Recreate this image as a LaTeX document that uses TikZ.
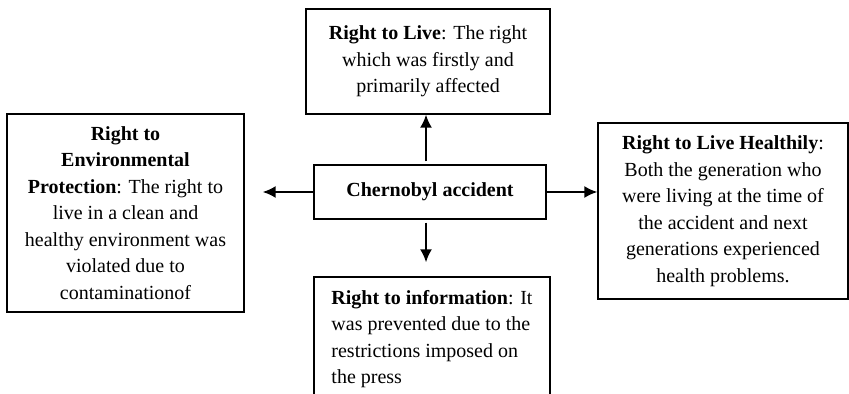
\documentclass[tikz,border=0pt]{standalone}
\usepackage{fontspec}
\setmainfont{Liberation Serif}
\usetikzlibrary{arrows.meta}
\tikzstyle{arrow} = [line width=1pt,-{Latex[length=6.5pt,width=6pt]}]
\tikzstyle{box} = [draw, line width=0.65pt, rectangle, inner sep=0pt, align=center, font=\fontsize{10}{13.25}\selectfont]

\begin{document}
\begin{tikzpicture}[x=0.5pt, y=-0.5pt, every node/.style={box}]
          \useasboundingbox (0,0) rectangle (849,394);

          % Boxes
          \node[minimum width=122pt, minimum height=52.5pt] (live) at (428,61.5) {\textbf{Right to Live}: The right\\which was firstly and\\primarily affected};
          \node[minimum width=118.5pt, minimum height=99pt] (env) at (125.5,213) {\textbf{Right to}\\\textbf{Environmental}\\\textbf{Protection}: The right to\\live in a clean and\\healthy environment was\\violated due to\\contaminationof};
          \node[minimum width=116pt, minimum height=27pt] (acc) at (430,192) {\textbf{Chernobyl accident}};
          \node[minimum width=118pt, minimum height=62pt, align=left] (info) at (432,339) {\textbf{Right to information}: It\\was prevented due to the\\restrictions imposed on\\the press};
          \node[minimum width=125pt, minimum height=88pt] (healthy) at (723,211) {\textbf{Right to Live Healthily}:\\Both the generation who\\were living at the time of\\the accident and next\\generations experienced\\health problems.};

          % Arrows
          \draw[arrow, shorten <=1.5pt] ([xshift=-2pt]acc.north) -- ([xshift=-2pt]acc.north |- live.south);
          \draw[arrow, shorten <=1.5pt, shorten >=7pt] ([xshift=-2pt]acc.south) -- ([xshift=-2pt]acc.south |- info.north);
          \draw[arrow, shorten >=9pt] (acc.west) -- (acc.west -| env.east);
          \draw[arrow] (acc.east) -- (acc.east -| healthy.west);

        \end{tikzpicture}
\end{document}
